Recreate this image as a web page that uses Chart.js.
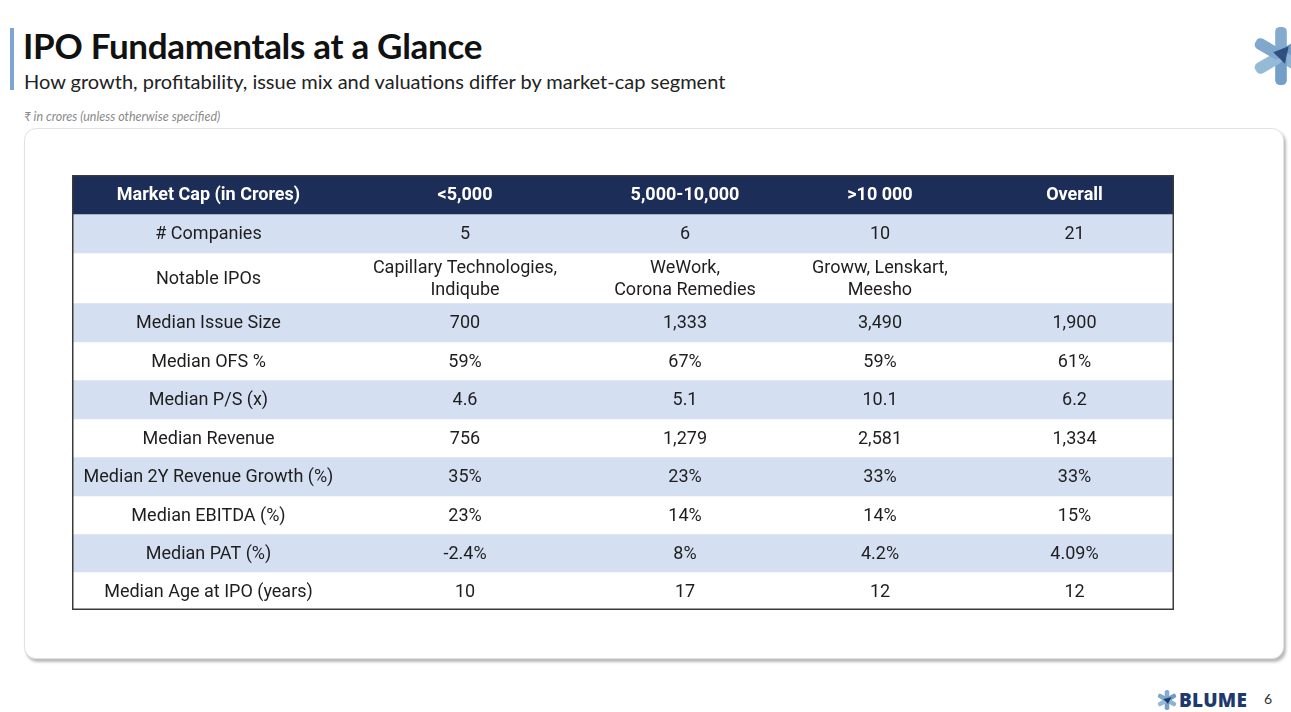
<!DOCTYPE html>
<html>
<head>
<meta charset="utf-8">
<script src="https://cdn.jsdelivr.net/npm/chart.js@4.4.1/dist/chart.umd.min.js"></script>
<style>
  html, body { margin: 0; padding: 0; background: #ffffff; }
  body { width: 1291px; height: 712px; position: relative; overflow: hidden; font-family: Lato, "Open Sans", sans-serif; }
  .accent { position: absolute; left: 10px; top: 28px; width: 4px; height: 62px; background: #7fa5d2; }
  .title { position: absolute; left: 23px; top: 24px; font-size: 35px; font-weight: 700; color: #111; letter-spacing: -0.3px; }
  .subtitle { position: absolute; left: 24px; top: 69px; font-size: 20px; color: #222; }
  .note { position: absolute; left: 24px; top: 109px; font-size: 12.5px; font-style: italic; color: #8a8a8a; }
  .card { position: absolute; left: 24px; top: 128px; width: 1258px; height: 529px; border: 1px solid #e2e2e2; border-radius: 12px; background: #fff; box-shadow: 2px 3px 3px rgba(0,0,0,0.28); }
  .table-wrap { position: absolute; left: 72px; top: 175px; width: 1102px; height: 435px; }
  .logo-top { position: absolute; left: 1250px; top: 24px; }
  .brand { position: absolute; left: 1156px; top: 687px; display: flex; align-items: center; }
  .brand span { font-family: "Open Sans", sans-serif; font-weight: 800; font-size: 19px; color: #1d3a6e; margin-left: 1px; letter-spacing: 0.2px; }
  .page { position: absolute; left: 1264px; top: 690px; font-size: 14px; color: #333; }
</style>
</head>
<body>
<div class="accent"></div>
<div class="title">IPO Fundamentals at a Glance</div>
<div class="subtitle">How growth, profitability, issue mix and valuations differ by market-cap segment</div>
<div class="note">₹ in crores (unless otherwise specified)</div>
<div class="card"></div>
<div class="table-wrap"><canvas id="tableChart"></canvas></div>

<svg class="logo-top" width="62" height="64" viewBox="-32 -32 64 64">
  <g opacity="0.85">
    <rect x="-6" y="-30" width="12" height="30" rx="5" fill="#6f9dc6" transform="rotate(0)"/>
    <rect x="-6" y="-30" width="12" height="30" rx="5" fill="#5a8bbd" transform="rotate(60)"/>
    <rect x="-6" y="-30" width="12" height="30" rx="5" fill="#7aa7c9" transform="rotate(120)"/>
    <rect x="-6" y="-30" width="12" height="30" rx="5" fill="#5b8fc0" transform="rotate(180)"/>
    <rect x="-6" y="-30" width="12" height="30" rx="5" fill="#82aed0" transform="rotate(240)"/>
    <rect x="-6" y="-30" width="12" height="30" rx="5" fill="#6a99c4" transform="rotate(300)"/>
  </g>
  <polygon points="-8,-4 8,-10 4,8" fill="#1d3a6e" opacity="0.8"/>
</svg>

<div class="brand">
  <svg width="22" height="24" viewBox="-12 -12 24 24">
    <g opacity="0.85">
      <rect x="-2.5" y="-11" width="5" height="11" rx="2" fill="#6f9dc6"/>
      <rect x="-2.5" y="-11" width="5" height="11" rx="2" fill="#5a8bbd" transform="rotate(60)"/>
      <rect x="-2.5" y="-11" width="5" height="11" rx="2" fill="#7aa7c9" transform="rotate(120)"/>
      <rect x="-2.5" y="-11" width="5" height="11" rx="2" fill="#5b8fc0" transform="rotate(180)"/>
      <rect x="-2.5" y="-11" width="5" height="11" rx="2" fill="#82aed0" transform="rotate(240)"/>
      <rect x="-2.5" y="-11" width="5" height="11" rx="2" fill="#6a99c4" transform="rotate(300)"/>
    </g>
    <polygon points="-4,-1 5,-3 1,4" fill="#1d3a6e"/>
  </svg>
  <span>BLUME</span>
</div>
<div class="page">6</div>

<script>
// table content
const columnHeaders = ["Market Cap (in Crores)", "<5,000", "5,000-10,000", ">10 000", "Overall"];
const metrics = [
  "# Companies",
  "Notable IPOs",
  "Median Issue Size",
  "Median OFS %",
  "Median P/S (x)",
  "Median Revenue",
  "Median 2Y Revenue Growth (%)",
  "Median EBITDA (%)",
  "Median PAT (%)",
  "Median Age at IPO (years)",
];
const segUnder5k = ["5", "Capillary Technologies,\nIndiqube", "700", "59%", "4.6", "756", "35%", "23%", "-2.4%", "10"];
const seg5kTo10k = ["6", "WeWork,\nCorona Remedies", "1,333", "67%", "5.1", "1,279", "23%", "14%", "8%", "17"];
const segOver10k = ["10", "Groww, Lenskart,\nMeesho", "3,490", "59%", "10.1", "2,581", "33%", "14%", "4.2%", "12"];
const segOverall = ["21", "", "1,900", "61%", "6.2", "1,334", "33%", "15%", "4.09%", "12"];

// layout (row heights / column edges, in table pixels)
const rowHeights = [39, 39, 50, 39, 38, 39, 38, 39, 38, 38, 38];
const colEdges = [0, 273, 513, 713, 903, 1102];
const totalHeight = rowHeights.reduce((a, b) => a + b, 0);

const NAVY = "#1c2d57";
const BAND = "#d5dff2";
const valueColumns = [segUnder5k, seg5kTo10k, segOver10k, segOverall];

function rowFill(i) {
  if (i === 0) return NAVY;
  return i % 2 === 1 ? BAND : "#ffffff";
}

function cellText(r, c) {
  if (r === 0) return columnHeaders[c];
  if (c === 0) return metrics[r - 1];
  return valueColumns[c - 1][r - 1];
}

// draws the cell texts + outer border using the chart scales
const tableTextPlugin = {
  id: "tableText",
  afterDatasetsDraw(chart) {
    const { ctx, chartArea } = chart;
    const y = chart.scales.y;
    const cx = chart.scales.cx;
    ctx.save();
    ctx.textAlign = "center";
    ctx.textBaseline = "middle";
    let acc = 0;
    for (let r = 0; r < rowHeights.length; r++) {
      const yMid = y.getPixelForValue(acc + rowHeights[r] / 2);
      acc += rowHeights[r];
      ctx.font = (r === 0 ? "bold " : "") + "18px Roboto, sans-serif";
      ctx.fillStyle = r === 0 ? "#ffffff" : "#1e1e1e";
      for (let c = 0; c < colEdges.length - 1; c++) {
        const xMid = cx.getPixelForValue((colEdges[c] + colEdges[c + 1]) / 2);
        const lines = cellText(r, c).split("\n");
        const lh = 22;
        lines.forEach((line, k) => {
          ctx.fillText(line, xMid, yMid + 1 + (k - (lines.length - 1) / 2) * lh);
        });
      }
    }
    ctx.strokeStyle = "#3a3a3a";
    ctx.lineWidth = 1.5;
    ctx.strokeRect(chartArea.left + 0.75, chartArea.top + 0.75,
      chartArea.right - chartArea.left - 1.5, chartArea.bottom - chartArea.top - 1.5);
    ctx.restore();
  },
};

const rowLabels = ["header"].concat(metrics);

new Chart(document.getElementById("tableChart"), {
  type: "bar",
  data: {
    labels: ["table"],
    datasets: rowLabels.map((label, i) => ({
      label: label,
      data: [rowHeights[i]],
      backgroundColor: rowFill(i),
      borderWidth: 0,
      barPercentage: 1,
      categoryPercentage: 1,
      stack: "rows",
    })),
  },
  options: {
    responsive: true,
    maintainAspectRatio: false,
    animation: false,
    layout: { padding: 0 },
    scales: {
      x: { display: false, stacked: true },
      y: { display: false, stacked: true, reverse: true, min: 0, max: totalHeight },
      cx: { type: "linear", axis: "x", display: false, offset: false, min: 0, max: colEdges[colEdges.length - 1] },
    },
    plugins: {
      legend: { display: false },
      tooltip: { enabled: false },
    },
  },
  plugins: [tableTextPlugin],
});
</script>
</body>
</html>
